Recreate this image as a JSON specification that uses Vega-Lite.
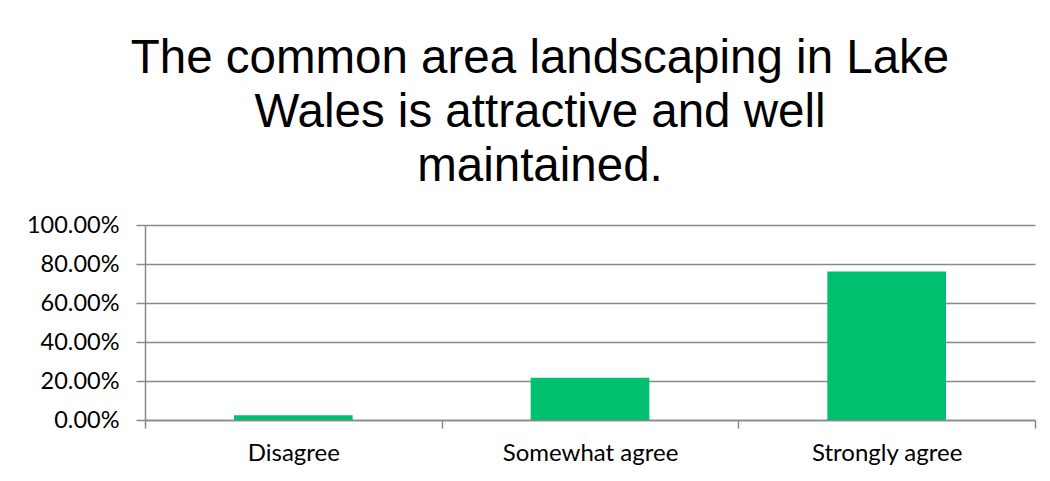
{
  "$schema": "https://vega.github.io/schema/vega-lite/v6.json",
  "width": 890,
  "height": 195,
  "autosize": {"type": "none"},
  "padding": {"left": 145, "top": 225, "right": 15, "bottom": 61},
  "background": "white",
  "config": {"view": {"stroke": null}},
  "title": {
    "text": ["The common area landscaping in Lake", "Wales is attractive and well", "maintained."],
    "font": "Liberation Sans",
    "fontSize": 47.5,
    "fontWeight": "normal",
    "color": "#000000",
    "lineHeight": 54,
    "anchor": "middle",
    "baseline": "alphabetic",
    "offset": -15,
    "dx": -50
  },
  "data": {
    "values": [
      {"response": "Disagree", "pct": 0.024},
      {"response": "Somewhat agree", "pct": 0.217},
      {"response": "Strongly agree", "pct": 0.761}
    ]
  },
  "mark": {"type": "bar", "color": "#00BF6F", "width": {"band": 0.4}},
  "encoding": {
    "x": {
      "field": "response",
      "type": "nominal",
      "sort": null,
      "scale": {"paddingInner": 0, "paddingOuter": 0},
      "axis": {
        "title": null,
        "labelAngle": 0,
        "labelFont": "Lato",
        "labelFontSize": 24,
        "labelColor": "#000000",
        "labelPadding": 13,
        "tickBand": "extent",
        "tickSize": 8,
        "tickColor": "#898989",
        "tickWidth": 1.5,
        "domainColor": "#898989",
        "domainWidth": 1.5
      }
    },
    "y": {
      "field": "pct",
      "type": "quantitative",
      "scale": {"domain": [0, 1]},
      "axis": {
        "title": null,
        "values": [0, 0.2, 0.4, 0.6, 0.8, 1],
        "format": ".2%",
        "labelFont": "Lato",
        "labelFontSize": 23.5,
        "labelColor": "#000000",
        "labelPadding": 17,
        "tickSize": 9,
        "tickColor": "#898989",
        "tickWidth": 1.5,
        "domainColor": "#898989",
        "domainWidth": 1.5,
        "grid": true,
        "gridColor": "#898989",
        "gridWidth": 1.5
      }
    }
  }
}
